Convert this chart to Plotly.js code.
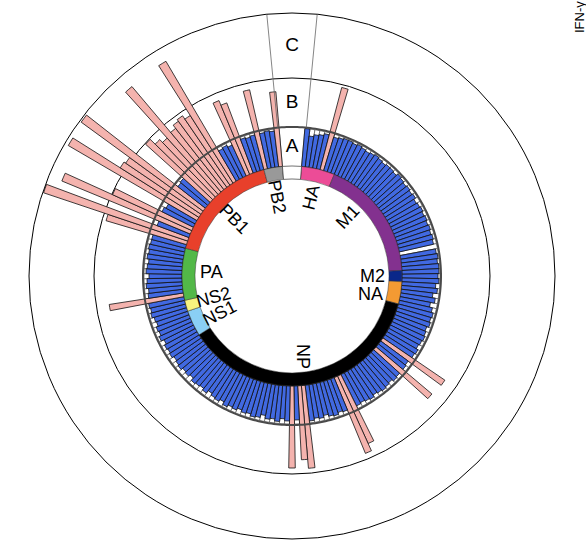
<!DOCTYPE html>
<html><head><meta charset="utf-8">
<script src="https://cdn.plot.ly/plotly-3.0.1.min.js"></script>
<style>html,body{margin:0;padding:0;background:#fff}#chart{width:586px;height:550px}</style>
</head><body><div id="chart"></div>
<script>
// ---- data ----
const segments = ['HA','M1','M2','NA','NP','NS1','NS2','PA','PB1','PB2'];
const segmentColors = ['#EC4C97','#83318F','#0A2789','#F39A33','#000000','#8ACFF5','#F7F27E','#52B848','#E8402B','#999999'];
const HA  = [38,31,33,34,36,85,35,36,37];
const M1  = [37,36,37,36,35,36,37,36,35,36,36,35,37,36,35,36,35,36,34,35,36,35,36,35,36,35,36,35,0,36,37,36,37];
const M2  = [37,36,37];
const NA  = [34,36,32,35,31,34];
const NP  = [36,35,36,34,35,36,35,34,36,35,75,34,35,73,35,36,34,35,36,35,34,36,35,34,35,74,82,35,34,36,35,33,35,34,36,83,74,34,82,
             35,33,36,34,35,32,35,36,34,35,33,35,34,36,33,35,34,32,35,33,34,35,32,34,33,35,34,33,35];
const NS1 = [34,35,33,36,34,35,33];
const NS2 = [34,36,35];
const PA  = [36,75,35,34,36,35,33,36,35,34,36,35,36,35];
const PB1 = [35,84,152,34,139,87,35,33,149,93,91,151,35,36,87,80,76,138,78,82,84,80,139,35,36,34,80,75,36,35,36];
const PB2 = [81,36,37,36,75];
const segmentValues = [HA,M1,M2,NA,NP,NS1,NS2,PA,PB1,PB2];
const bandLabels = ['A','B','C'];
const labelTheta = [14,43,90.3,102.8,172,243,255,273,314.5,349];
const labelAngle = [-76,-47,0,0,90,-27,-15,0,45,79];
const sideLabel = 'IFN-γ';

// ---- geometry (layout) ----
const W = 586, H = 550, CX = 292, CY = 276, R = 263;
const RING_IN = 97, RING_W = 13, BASE = 110, R_A = 149, R_B = 198;
const START = 5, SPAN = 350;
const total = segmentValues.reduce((s,a)=>s+a.length,0);
const slot = SPAN/total;
const BLUE = '#4169E1', PINK = '#F4B3AE';
const THRESH = 38;

const thetas = [], vals = [], cols = [];
const segMid = [], segWidth = [];
let k = 0;
segmentValues.forEach(arr => {
  const s0 = START + k*slot;
  arr.forEach(v => {
    thetas.push(START + (k+0.5)*slot);
    vals.push(v);
    cols.push(v > THRESH ? PINK : BLUE);
    k++;
  });
  const s1 = START + k*slot;
  segMid.push((s0+s1)/2); segWidth.push(s1-s0);
});

const traces = [];
// background track (white slots up to circle A)
traces.push({type:'barpolar', theta:thetas, r:thetas.map(()=>R_A-1-BASE), base:BASE, width:slot,
  marker:{color:'#ffffff', line:{color:'#555', width:0.7}}, hoverinfo:'skip', showlegend:false});
// data bars
traces.push({type:'barpolar', theta:thetas, r:vals, base:BASE, width:slot,
  marker:{color:cols, line:{color:'#111', width:0.8}}, showlegend:false});
// ring segments
traces.push({type:'barpolar', theta:segMid, r:segMid.map(()=>RING_W), base:RING_IN, width:segWidth,
  marker:{color:segmentColors, line:{color:'#333', width:0.5}}, showlegend:false, hoverinfo:'skip'});
// gap piece
traces.push({type:'barpolar', theta:[0], r:[RING_W], base:RING_IN, width:[360-SPAN],
  marker:{color:'#fff', line:{color:'#333', width:0.7}}, showlegend:false, hoverinfo:'skip'});
// circle A
const circ = []; for (let a=0;a<=360;a+=1) circ.push(a);
traces.push({type:'scatterpolar', mode:'lines', theta:circ, r:circ.map(()=>R_A),
  line:{color:'#4a4a4a', width:2}, showlegend:false, hoverinfo:'skip'});
// wedge lines
[-5.5, 5.5].forEach(t => traces.push({type:'scatterpolar', mode:'lines', theta:[t,t], r:[R_A,R],
  line:{color:'#666', width:0.8}, showlegend:false, hoverinfo:'skip'}));
// band labels
traces.push({type:'scatterpolar', mode:'text', theta:[0,0,0], r:[(BASE+R_A)/2-1,(R_A+R_B)/2-1,(R_B+R)/2-0.5],
  text:bandLabels, textfont:{family:'Liberation Sans, Arial, sans-serif', size:19, color:'#000'},
  showlegend:false, hoverinfo:'skip'});

const annotations = segments.map((s,i) => {
  const t = labelTheta[i]*Math.PI/180, rr = 81;
  const px = CX + rr*Math.sin(t), py = CY - rr*Math.cos(t);
  return {text:s, x:px/W, y:1-py/H, xref:'paper', yref:'paper', showarrow:false,
    xanchor:'center', yanchor:'middle', textangle:labelAngle[i],
    font:{family:'Liberation Sans, Arial, sans-serif', size:18, color:'#000'}};
});
annotations.push({text:sideLabel, x:580/W, y:1-35/H, xref:'paper', yref:'paper', showarrow:false,
  xanchor:'center', yanchor:'bottom', textangle:-90,
  font:{family:'Liberation Sans, Arial, sans-serif', size:13, color:'#000'}});

const layout = {
  width:W, height:H, margin:{l:0,r:0,t:0,b:0},
  paper_bgcolor:'#fff', showlegend:false,
  polar:{
    domain:{x:[(CX-R)/W,(CX+R)/W], y:[(H-CY-R)/H,(H-CY+R)/H]},
    bgcolor:'#fff', bargap:0, barmode:'overlay', hole:0,
    radialaxis:{range:[0,R], tickvals:[R_B], showgrid:true, gridcolor:'#000', gridwidth:1,
      showticklabels:false, ticks:'', showline:false},
    angularaxis:{rotation:90, direction:'clockwise', showgrid:false, showticklabels:false, ticks:'',
      showline:true, linecolor:'#000', linewidth:1}
  },
  annotations
};
Plotly.newPlot('chart', traces, layout, {displayModeBar:false, staticPlot:true});
</script></body></html>
